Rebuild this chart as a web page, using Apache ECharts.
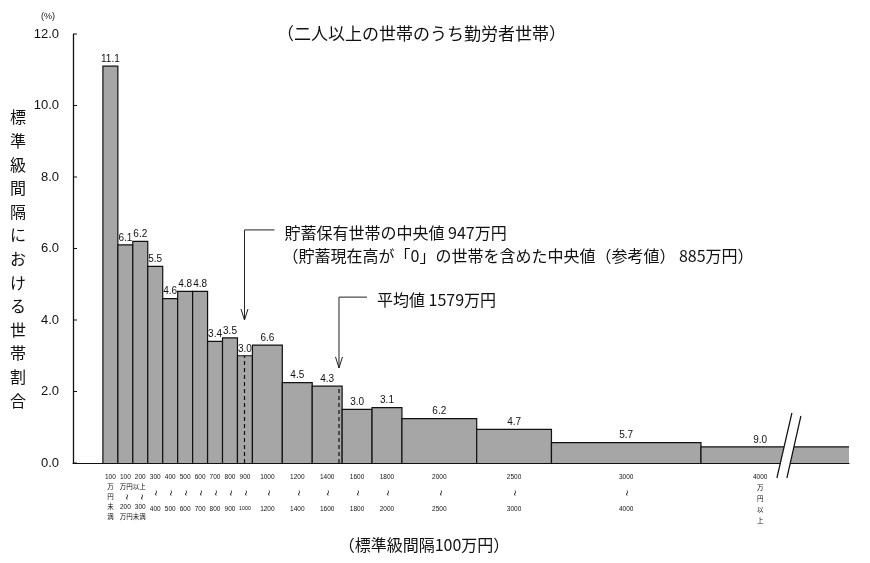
<!DOCTYPE html>
<html><head><meta charset="utf-8">
<script src="https://cdn.jsdelivr.net/npm/echarts@6/dist/echarts.min.js"></script>
<style>html,body{margin:0;padding:0;background:#fff}#c{width:870px;height:563px}</style>
</head><body><div id="c"></div>
<script>
// ---- data ----
const binLower = [0,100,200,300,400,500,600,700,800,900,1000,1200,1400,1600,1800,2000,2500,3000,4000];
const binUpper = [100,200,300,400,500,600,700,800,900,1000,1200,1400,1600,1800,2000,2500,3000,4000,6000];
const shares   = [11.1,6.1,6.2,5.5,4.6,4.8,4.8,3.4,3.5,3.0,6.6,4.5,4.3,3.0,3.1,6.2,4.7,5.7,9.0];
const tickTop    = ['100','100','200','300','400','500','600','700','800','900','1000','1200','1400','1600','1800','2000','2500','3000','4000'];
const tickBottom = ['','200','300','400','500','600','700','800','900','1000','1200','1400','1600','1800','2000','2500','3000','4000',''];
const unitUnder = '万円未満';
const unitOver = '万円以上';
const yTicks = [0,2,4,6,8,10,12];
const medianValue = 947;
const meanValue = 1579;
const medianText = ['貯蓄保有世帯の中央値 947万円','（貯蓄現在高が「0」の世帯を含めた中央値（参考値） 885万円）'];
const meanText = ['平均値 1579万円'];
const titleText = '（二人以上の世帯のうち勤労者世帯）';
const xAxisTitle = '（標準級間隔100万円）';
const yAxisTitle = '標準級間隔における世帯割合';
const yUnit = '(%)';

// ---- derived: share per standard interval (100万円) ----
const barData = binLower.map((lo, i) => [lo, binUpper[i], shares[i] / ((binUpper[i] - lo) / 100), shares[i], i]);
function densityAt(v) {
  for (let i = 0; i < binLower.length; i++) if (v >= binLower[i] && v < binUpper[i]) return barData[i][2];
  return 0;
}

const X_MIN = -200, X_MAX = 4990;
const NUM_FONT = '"Liberation Sans", "Noto Sans CJK JP", sans-serif';
const JP_FONT = '"Noto Sans CJK JP", sans-serif';

function tilde(x, y) {
  return {type: 'text', x: x, y: y, rotation: -Math.PI / 2,
    style: {text: '~', x: 0, y: 0, align: 'center', verticalAlign: 'middle', fontSize: 10, fontFamily: NUM_FONT, fill: '#111'}};
}

function renderBar(params, api) {
  const lo = api.value(0), hi = api.value(1), h = api.value(2), share = api.value(3), idx = api.value(4);
  const cs = params.coordSys;
  const p0 = api.coord([lo, 0]), p1 = api.coord([hi, h]);
  const x0 = p0[0], y0 = p0[1], y1 = p1[1];
  const clipped = p1[0] > cs.x + cs.width;
  const right = clipped ? cs.x + cs.width : p1[0];
  const cx = clipped ? x0 + (right - x0) * 0.4 : (x0 + right) / 2;
  const pts = clipped ? [[x0, y0], [x0, y1], [right, y1]] : [[x0, y0], [x0, y1], [right, y1], [right, y0]];
  const ch = [
    {type: 'rect', shape: {x: x0, y: y1, width: right - x0, height: y0 - y1}, style: {fill: '#a6a6a6'}},
    {type: 'polyline', shape: {points: pts}, style: {stroke: '#111', lineWidth: 1.2, fill: null}},
    {type: 'text', style: {text: share.toFixed(1), x: cx, y: y1 - 2, align: 'center', verticalAlign: 'bottom', fontSize: 10, fontFamily: NUM_FONT, fill: '#111'}}
  ];
  const top = tickTop[idx], bot = tickBottom[idx];
  const barW = right - x0;
  if (!bot) {
    const unit = idx === 0 ? unitUnder : unitOver;
    const lh = idx === 0 ? 10 : 11;
    ch.push({type: 'text', style: {text: top + '\n' + unit.split('').join('\n'), x: cx, y: y0 + 9, align: 'center', verticalAlign: 'top', lineHeight: lh, fontSize: 6.5, fontFamily: NUM_FONT, fill: '#111'}});
  } else {
    const compact = idx === 1 || idx === 2;
    const tildeY = compact ? 34 : 30, botY = compact ? 44 : 46;
    ch.push({type: 'text', style: {text: top, x: cx, y: y0 + 14, align: 'center', verticalAlign: 'middle', fontSize: 6.5, fontFamily: NUM_FONT, fill: '#111'}});
    ch.push(tilde(cx, y0 + tildeY));
    ch.push({type: 'text', style: {text: bot, x: cx, y: y0 + botY, align: 'center', verticalAlign: 'middle', fontSize: (bot.length >= 4 && barW < 20) ? 5.3 : 6.5, fontFamily: NUM_FONT, fill: '#111'}});
    if (idx === 1) {
      ch.push({type: 'text', style: {text: unitOver, x: right, y: y0 + 24, align: 'center', verticalAlign: 'middle', fontSize: 6.5, fontFamily: JP_FONT, fill: '#111'}});
      ch.push({type: 'text', style: {text: unitUnder, x: right, y: y0 + 54, align: 'center', verticalAlign: 'middle', fontSize: 6.5, fontFamily: JP_FONT, fill: '#111'}});
    }
  }
  return {type: 'group', children: ch};
}

const annotationLayout = [
  {value: medianValue, top: 6.52, tip: 4.0, arm: 30, lines: medianText},
  {value: meanValue, top: 4.64, tip: 2.66, arm: 28, lines: meanText}
];
function renderAnnotation(params, api) {
  const a = annotationLayout[params.dataIndex];
  const v = api.value(0);
  const pb = api.coord([v, 0]), pt = api.coord([v, densityAt(v)]);
  const pTop = api.coord([v, a.top]), pTip = api.coord([v, a.tip]);
  const x = pb[0];
  const ch = [
    {type: 'line', shape: {x1: x, y1: pb[1], x2: x, y2: pt[1]}, style: {stroke: '#111', lineWidth: 1.2, lineDash: [4, 3]}},
    {type: 'polyline', shape: {points: [[x + a.arm, pTop[1]], [x, pTop[1]], [x, pTip[1]]]}, style: {stroke: '#222', lineWidth: 1, fill: null}},
    {type: 'polyline', shape: {points: [[x - 3.5, pTip[1] - 11], [x, pTip[1]], [x + 3.5, pTip[1] - 11]]}, style: {stroke: '#222', lineWidth: 1, fill: null}}
  ];
  a.lines.forEach((t, i) => {
    ch.push({type: 'text', style: {text: t, x: x + a.arm + (i === 0 ? 10 : 8), y: pTop[1] + 3 + i * 23, align: 'left', verticalAlign: 'middle', fontSize: 16, fontFamily: JP_FONT, fill: '#111'}});
  });
  return {type: 'group', children: ch};
}

// left value axis line with inward ticks, placed through the axis scales
function renderYAxisLine(params, api) {
  const b = api.coord([X_MIN, yTicks[0]]), t = api.coord([X_MIN, yTicks[yTicks.length - 1]]);
  const ch = [{type: 'line', shape: {x1: b[0] + 0.5, y1: b[1], x2: t[0] + 0.5, y2: t[1]}, style: {stroke: '#111', lineWidth: 1.3}}];
  yTicks.forEach(v => {
    const p = api.coord([X_MIN, v]);
    ch.push({type: 'line', shape: {x1: p[0], y1: p[1], x2: p[0] + 4, y2: p[1]}, style: {stroke: '#111', lineWidth: 1}});
  });
  return {type: 'group', children: ch};
}

const breakAt = 4590;
function renderBreak(params, api) {
  const p = api.coord([breakAt, 0]);
  const c = p[0], y = p[1];
  const L1 = [c - 12.3, y + 15], L2 = [c + 2.7, y - 50];
  const R1 = [c - 2.3, y + 15], R2 = [c + 11.7, y - 47];
  return {type: 'group', children: [
    {type: 'polygon', shape: {points: [L1, L2, R2, R1]}, style: {fill: '#fff'}},
    {type: 'line', shape: {x1: L1[0], y1: L1[1], x2: L2[0], y2: L2[1]}, style: {stroke: '#111', lineWidth: 1.2}},
    {type: 'line', shape: {x1: R1[0], y1: R1[1], x2: R2[0], y2: R2[1]}, style: {stroke: '#111', lineWidth: 1.2}}
  ]};
}

const chart = echarts.init(document.getElementById('c'), null, {renderer: 'canvas'});
chart.setOption({
  animation: false,
  backgroundColor: '#fff',
  grid: {left: 73, right: 21, top: 34, bottom: 100},
  xAxis: {
    type: 'value', min: X_MIN, max: X_MAX,
    axisLine: {show: true, onZero: false, lineStyle: {color: '#111', width: 1.2}},
    axisTick: {show: false}, axisLabel: {show: false}, splitLine: {show: false}
  },
  yAxis: {
    type: 'value', position: 'left', min: yTicks[0], max: yTicks[yTicks.length - 1], interval: yTicks[1] - yTicks[0],
    axisLine: {show: false, onZero: false},
    axisTick: {show: false},
    axisLabel: {formatter: v => v.toFixed(1), fontSize: 13, color: '#111', margin: 14, fontFamily: NUM_FONT},
    splitLine: {show: false}
  },
  graphic: [
    {type: 'text', left: 277, top: 25, style: {text: titleText, fontSize: 17, fontFamily: JP_FONT, fill: '#111'}},
    {type: 'text', x: 424, y: 545, style: {text: xAxisTitle, align: 'center', verticalAlign: 'middle', fontSize: 16, fontFamily: JP_FONT, fill: '#111'}},
    {type: 'text', x: 18, y: 259, style: {text: yAxisTitle.split('').join('\n'), align: 'center', verticalAlign: 'middle', lineHeight: 23.6, fontSize: 16, fontFamily: JP_FONT, fill: '#111'}},
    {type: 'text', x: 48, y: 17, style: {text: yUnit, align: 'center', verticalAlign: 'middle', fontSize: 9, fontFamily: NUM_FONT, fill: '#111'}}
  ],
  series: [
    {type: 'custom', name: 'bars', renderItem: renderBar, data: barData, z: 2, silent: true},
    {type: 'custom', name: 'annotations', renderItem: renderAnnotation, data: annotationLayout.map(a => [a.value]), z: 3, silent: true},
    {type: 'custom', name: 'yAxisLine', renderItem: renderYAxisLine, data: [[X_MIN]], z: 3, silent: true},
    {type: 'custom', name: 'break', renderItem: renderBreak, data: [[breakAt]], z: 4, silent: true}
  ]
});
</script>
</body></html>
